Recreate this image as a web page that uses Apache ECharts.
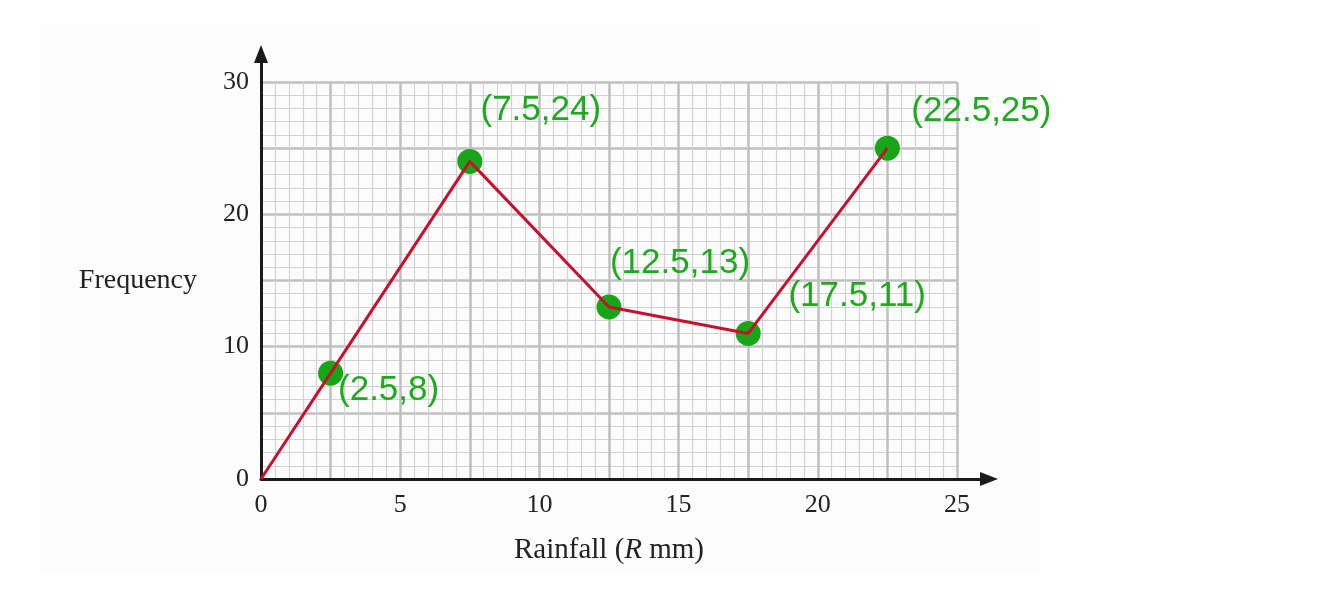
<!DOCTYPE html>
<html>
<head>
<meta charset="utf-8">
<title>Rainfall frequency polygon</title>
<script src="https://cdn.jsdelivr.net/npm/echarts@6/dist/echarts.min.js"></script>
<style>
    html, body {margin: 0; padding: 0; background: #fff;}
    #main {width: 1323px; height: 603px;}
</style>
</head>
<body>
<div id="main"></div>
<script>
// data
var rainfall = [2.5, 7.5, 12.5, 17.5, 22.5];
var frequency = [8, 24, 13, 11, 25];
var pointLabels = ['(2.5,8)', '(7.5,24)', '(12.5,13)', '(17.5,11)', '(22.5,25)'];
var xTicks = [0, 5, 10, 15, 20, 25];
var yTicks = [0, 10, 20, 30];

var myChart = echarts.init(document.getElementById('main'));

// polygon starts at the origin
var lineData = [[0, 0]];
for (var i = 0; i < rainfall.length; i++) {
    lineData.push([rainfall[i], frequency[i]]);
}

// where each green label sits relative to its dot
var labelOffsets = [[58, 17], [71, -51], [71, -44], [109, -37], [94, -37]];
var dotData = [];
for (var j = 0; j < rainfall.length; j++) {
    dotData.push({
        value: [rainfall[j], frequency[j]],
        label: {formatter: pointLabels[j], offset: labelOffsets[j]}
    });
}

var serif = '"Liberation Serif", "Times New Roman", serif';
var gridMinor = '#d2d2d2';
var gridMajor = '#bfbfbf';

function hiddenAxis(idx) {
    return {
        gridIndex: idx, type: 'value', min: 0, max: 1,
        axisLine: {show: false}, axisTick: {show: false},
        axisLabel: {show: false}, splitLine: {show: false}
    };
}

function arrowAxis(idx) {
    return {
        gridIndex: idx, type: 'value', min: 0, max: 1,
        axisLine: {
            show: true,
            symbol: ['none', 'triangle'],
            symbolSize: [14, 18],
            lineStyle: {color: '#1a1a1a', width: 3}
        },
        axisTick: {show: false}, axisLabel: {show: false}, splitLine: {show: false}
    };
}

myChart.setOption({
    backgroundColor: '#fff',
    animation: false,
    grid: [
        // pale sheet behind the whole figure
        {left: 40, top: 24, width: 1000, height: 548, show: true,
            backgroundColor: '#fcfcfc', borderWidth: 0},
        // graph paper
        {left: 261, top: 82, width: 696, height: 397},
        // axes with arrow heads, running past the paper
        {left: 261, top: 54, width: 728, height: 425}
    ],
    xAxis: [
        hiddenAxis(0),
        {
            gridIndex: 1, type: 'value', min: 0, max: 25, interval: 2.5,
            name: '{n|Rainfall (}{i|R}{n| mm)}',
            nameLocation: 'middle',
            nameGap: 57,
            nameTextStyle: {
                rich: {
                    n: {fontFamily: serif, fontSize: 29, color: '#222'},
                    i: {fontFamily: serif, fontSize: 29, color: '#222', fontStyle: 'italic'}
                }
            },
            axisLine: {show: false},
            axisTick: {show: false},
            axisLabel: {
                margin: 13,
                fontFamily: serif, fontSize: 26, color: '#222',
                formatter: function (v) {
                    return xTicks.indexOf(v) >= 0 ? String(v) : '';
                }
            },
            splitLine: {show: true, lineStyle: {color: gridMajor, width: 2.5}},
            minorTick: {show: false, splitNumber: 5},
            minorSplitLine: {show: true, lineStyle: {color: gridMinor, width: 1.2}}
        },
        arrowAxis(2)
    ],
    yAxis: [
        hiddenAxis(0),
        {
            gridIndex: 1, type: 'value', min: 0, max: 30, interval: 5,
            name: 'Frequency',
            nameLocation: 'middle',
            nameRotate: 0,
            nameGap: 64,
            nameTextStyle: {fontFamily: serif, fontSize: 28, color: '#222'},
            axisLine: {show: false},
            axisTick: {show: false},
            axisLabel: {
                margin: 12,
                fontFamily: serif, fontSize: 26, color: '#222',
                formatter: function (v) {
                    return yTicks.indexOf(v) >= 0 ? String(v) : '';
                }
            },
            splitLine: {show: true, lineStyle: {color: gridMajor, width: 2.5}},
            minorTick: {show: false, splitNumber: 5},
            minorSplitLine: {show: true, lineStyle: {color: gridMinor, width: 1.2}}
        },
        arrowAxis(2)
    ],
    series: [
        {
            type: 'scatter',
            xAxisIndex: 1, yAxisIndex: 1,
            symbolSize: 25,
            itemStyle: {color: '#17a617', opacity: 1},
            label: {
                show: true,
                position: 'inside',
                align: 'center',
                verticalAlign: 'middle',
                fontFamily: '"Liberation Sans", Arial, sans-serif',
                fontSize: 35,
                color: '#1eaa1e'
            },
            z: 2,
            data: dotData
        },
        {
            type: 'line',
            xAxisIndex: 1, yAxisIndex: 1,
            symbol: 'none',
            lineStyle: {color: '#c8102e', width: 3},
            z: 3,
            data: lineData
        }
    ]
});
</script>
</body>
</html>
